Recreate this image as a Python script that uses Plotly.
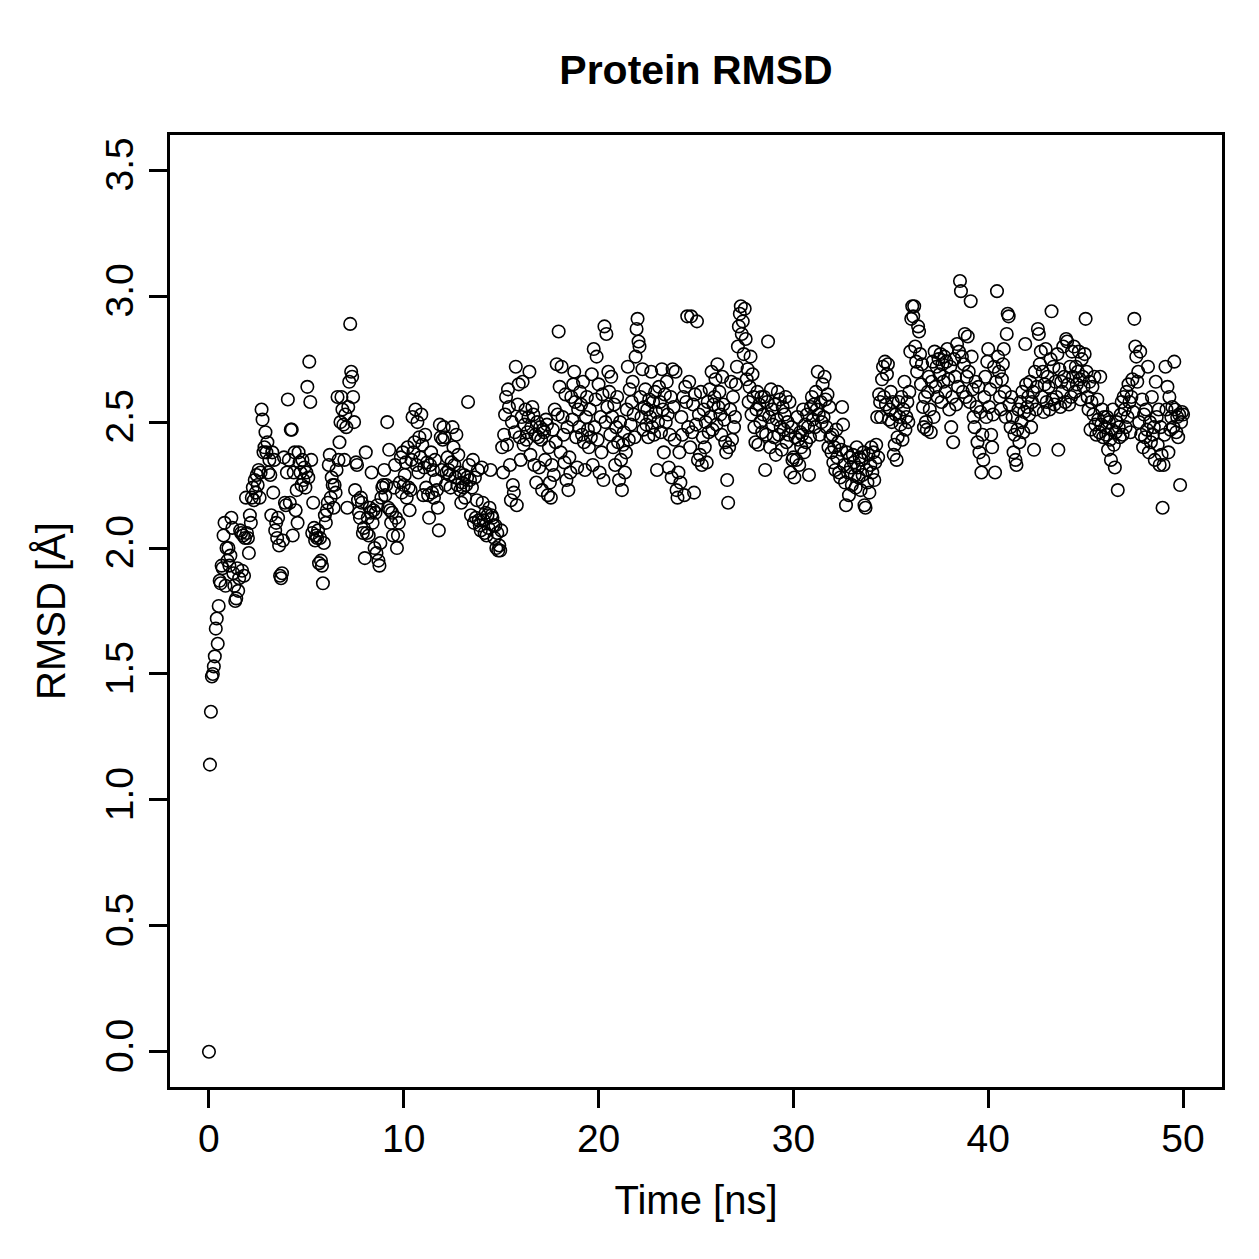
import plotly.graph_objects as go

time_step_ns = 0.05

rmsd = [
    0.00, 1.14, 1.35, 1.49, 1.50, 1.53, 1.57, 1.68, 1.72, 1.62,
    1.77, 1.87, 1.86, 1.93, 1.92, 2.05, 2.10, 1.85, 2.00, 1.95,
    2.00, 1.93, 1.97, 2.12, 2.08, 1.90, 1.85, 1.79, 1.80, 1.92,
    1.83, 1.88, 2.07, 2.06, 1.91, 2.05, 1.89, 2.04, 2.20, 2.06,
    2.04, 1.98, 2.13, 2.10, 2.20, 2.24, 2.19, 2.27, 2.22, 2.29,
    2.25, 2.31, 2.20, 2.30, 2.55, 2.51, 2.38, 2.40, 2.46, 2.38,
    2.42, 2.30, 2.35, 2.29, 2.13, 2.38, 2.22, 2.35, 2.07, 2.10,
    2.04, 2.12, 2.01, 1.89, 1.88, 1.90, 2.03, 2.36, 2.18, 2.17,
    2.30, 2.59, 2.35, 2.18, 2.47, 2.47, 2.05, 2.30, 2.38, 2.15,
    2.23, 2.10, 2.38, 2.34, 2.30, 2.25, 2.35, 2.27, 2.32, 2.24,
    2.30, 2.64, 2.28, 2.74, 2.58, 2.35, 2.06, 2.18, 2.08, 2.03,
    2.05, 2.04, 2.07, 1.94, 2.04, 1.95, 1.93, 1.86, 2.02, 2.13,
    2.10, 2.15, 2.18, 2.33, 2.37, 2.20, 2.28, 2.25, 2.16, 2.25,
    2.22, 2.31, 2.60, 2.35, 2.42, 2.50, 2.60, 2.55, 2.49, 2.35,
    2.53, 2.48, 2.16, 2.56, 2.66, 2.89, 2.70, 2.68, 2.60, 2.50,
    2.23, 2.34, 2.33, 2.19, 2.14, 2.12, 2.20, 2.18, 2.06, 2.08,
    1.96, 2.38, 2.06, 2.12, 2.05, 2.16, 2.14, 2.30, 2.10, 2.15,
    2.00, 2.14, 1.98, 2.17, 1.95, 1.93, 2.02, 2.20, 2.24, 2.25,
    2.31, 2.21, 2.25, 2.50, 2.16, 2.39, 2.15, 2.10, 2.14, 2.05,
    2.24, 2.33, 2.12, 2.00, 2.05, 2.10, 2.26, 2.36, 2.22, 2.38,
    2.25, 2.29, 2.34, 2.20, 2.40, 2.24, 2.15, 2.23, 2.35, 2.52,
    2.38, 2.42, 2.55, 2.33, 2.50, 2.30, 2.44, 2.36, 2.53, 2.41,
    2.21, 2.32, 2.45, 2.24, 2.34, 2.21, 2.12, 2.33, 2.38, 2.22,
    2.31, 2.20, 2.35, 2.27, 2.23, 2.16, 2.07, 2.49, 2.44, 2.31,
    2.43, 2.48, 2.44, 2.25, 2.30, 2.36, 2.31, 2.29, 2.24, 2.34,
    2.48, 2.40, 2.33, 2.28, 2.45, 2.25, 2.37, 2.30, 2.23, 2.18,
    2.26, 2.24, 2.29, 2.20, 2.25, 2.28, 2.58, 2.33, 2.27, 2.13,
    2.24, 2.35, 2.10, 2.28, 2.12, 2.19, 2.31, 2.11, 2.09, 2.07,
    2.32, 2.18, 2.11, 2.06, 2.14, 2.05, 2.13, 2.08, 2.16, 2.31,
    2.13, 2.12, 2.09, 2.04, 2.09, 2.00, 2.06, 1.99, 2.01, 1.99,
    2.07, 2.40, 2.30, 2.45, 2.53, 2.60, 2.41, 2.63, 2.56, 2.33,
    2.19, 2.50, 2.25, 2.22, 2.46, 2.72, 2.17, 2.57, 2.65, 2.44,
    2.35, 2.52, 2.66, 2.41, 2.49, 2.55, 2.43, 2.46, 2.52, 2.70,
    2.37, 2.48, 2.56, 2.53, 2.33, 2.45, 2.26, 2.50, 2.44, 2.32,
    2.48, 2.43, 2.23, 2.47, 2.46, 2.35, 2.51, 2.49, 2.21, 2.40,
    2.26, 2.20, 2.33, 2.47, 2.29, 2.55, 2.42, 2.73, 2.53, 2.86,
    2.64, 2.38, 2.72, 2.52, 2.45, 2.34, 2.61, 2.27, 2.48, 2.23,
    2.36, 2.30, 2.60, 2.51, 2.65, 2.70, 2.58, 2.44, 2.32, 2.55,
    2.48, 2.62, 2.57, 2.45, 2.66, 2.42, 2.31, 2.52, 2.60, 2.47,
    2.40, 2.55, 2.44, 2.69, 2.33, 2.79, 2.48, 2.59, 2.76, 2.43,
    2.65, 2.30, 2.52, 2.38, 2.61, 2.27, 2.88, 2.50, 2.85, 2.56,
    2.70, 2.62, 2.45, 2.68, 2.52, 2.40, 2.57, 2.33, 2.48, 2.60,
    2.42, 2.27, 2.50, 2.35, 2.23, 2.41, 2.46, 2.30, 2.38, 2.55,
    2.72, 2.43, 2.63, 2.49, 2.58, 2.66, 2.53, 2.44, 2.76, 2.87,
    2.91, 2.82, 2.80, 2.60, 2.52, 2.71, 2.47, 2.56, 2.63, 2.49,
    2.55, 2.44, 2.59, 2.52, 2.70, 2.48, 2.58, 2.45, 2.62, 2.54,
    2.31, 2.50, 2.64, 2.58, 2.46, 2.71, 2.55, 2.38, 2.61, 2.50,
    2.66, 2.53, 2.32, 2.45, 2.60, 2.28, 2.71, 2.56, 2.43, 2.70,
    2.23, 2.20, 2.30, 2.38, 2.26, 2.52, 2.45, 2.60, 2.21, 2.64,
    2.58, 2.92, 2.48, 2.66, 2.40, 2.92, 2.46, 2.57, 2.22, 2.61,
    2.49, 2.90, 2.35, 2.53, 2.37, 2.62, 2.33, 2.44, 2.55, 2.40,
    2.50, 2.34, 2.58, 2.46, 2.63, 2.52, 2.70, 2.47, 2.57, 2.60,
    2.67, 2.49, 2.73, 2.56, 2.62, 2.53, 2.45, 2.68, 2.57, 2.51,
    2.42, 2.38, 2.27, 2.18, 2.40, 2.55, 2.66, 2.43, 2.60, 2.48,
    2.52, 2.65, 2.72, 2.80, 2.88, 2.93, 2.96, 2.85, 2.90, 2.77,
    2.95, 2.83, 2.67, 2.71, 2.58, 2.64, 2.76, 2.53, 2.69, 2.60,
    2.48, 2.42, 2.55, 2.62, 2.41, 2.57, 2.50, 2.60, 2.46, 2.53,
    2.60, 2.31, 2.45, 2.58, 2.82, 2.52, 2.40, 2.63, 2.55, 2.49,
    2.44, 2.57, 2.37, 2.51, 2.62, 2.45, 2.59, 2.48, 2.39, 2.56,
    2.47, 2.53, 2.60, 2.42, 2.50, 2.45, 2.58, 2.30, 2.48, 2.35,
    2.36, 2.28, 2.44, 2.35, 2.52, 2.43, 2.33, 2.46, 2.40, 2.45,
    2.55, 2.38, 2.49, 2.42, 2.53, 2.48, 2.29, 2.44, 2.56, 2.60,
    2.51, 2.57, 2.48, 2.62, 2.55, 2.70, 2.53, 2.45, 2.58, 2.50,
    2.65, 2.52, 2.68, 2.59, 2.48, 2.61, 2.40, 2.56, 2.44, 2.38,
    2.45, 2.34, 2.40, 2.31, 2.47, 2.36, 2.42, 2.30, 2.28, 2.39,
    2.56, 2.49, 2.33, 2.26, 2.17, 2.38, 2.30, 2.21, 2.36, 2.32,
    2.25, 2.37, 2.34, 2.29, 2.24, 2.40, 2.32, 2.28, 2.36, 2.23,
    2.35, 2.29, 2.38, 2.17, 2.16, 2.31, 2.26, 2.37, 2.22, 2.33,
    2.40, 2.30, 2.38, 2.27, 2.34, 2.41, 2.52, 2.36, 2.61, 2.58,
    2.52, 2.67, 2.72, 2.60, 2.74, 2.57, 2.69, 2.73, 2.51, 2.55,
    2.62, 2.50, 2.58, 2.37, 2.41, 2.53, 2.35, 2.44, 2.58, 2.52,
    2.49, 2.60, 2.43, 2.55, 2.66, 2.47, 2.52, 2.58, 2.50, 2.62,
    2.78, 2.91, 2.96, 2.92, 2.96, 2.80, 2.74, 2.70, 2.88, 2.86,
    2.77, 2.65, 2.73, 2.56, 2.48, 2.60, 2.50, 2.47, 2.62, 2.68,
    2.55, 2.46, 2.66, 2.74, 2.52, 2.78, 2.64, 2.72, 2.60, 2.75,
    2.69, 2.77, 2.58, 2.73, 2.66, 2.76, 2.62, 2.74, 2.79, 2.67,
    2.55, 2.72, 2.48, 2.60, 2.42, 2.75, 2.68, 2.57, 2.81, 2.64,
    2.78, 3.06, 3.02, 2.76, 2.62, 2.73, 2.85, 2.60, 2.68, 2.84,
    2.70, 2.58, 2.98, 2.76, 2.63, 2.52, 2.48, 2.66, 2.56, 2.42,
    2.64, 2.38, 2.54, 2.30, 2.45, 2.35, 2.60, 2.68, 2.52, 2.74,
    2.79, 2.56, 2.63, 2.45, 2.40, 2.53, 2.72, 2.30, 2.66, 3.02,
    2.76, 2.70, 2.60, 2.55, 2.67, 2.73, 2.79, 2.62, 2.52, 2.85,
    2.93, 2.92, 2.57, 2.48, 2.60, 2.52, 2.38, 2.45, 2.35, 2.33,
    2.47, 2.55, 2.42, 2.58, 2.50, 2.62, 2.46, 2.54, 2.81, 2.65,
    2.56, 2.60, 2.53, 2.66, 2.48, 2.58, 2.62, 2.39, 2.70, 2.55,
    2.64, 2.87, 2.85, 2.73, 2.78, 2.60, 2.70, 2.54, 2.65, 2.79,
    2.58, 2.68, 2.64, 2.55, 2.75, 2.94, 2.59, 2.72, 2.57, 2.66,
    2.60, 2.77, 2.39, 2.71, 2.56, 2.66, 2.62, 2.80, 2.68, 2.58,
    2.83, 2.82, 2.65, 2.57, 2.72, 2.60, 2.78, 2.68, 2.80, 2.62,
    2.72, 2.65, 2.70, 2.78, 2.67, 2.59, 2.75, 2.68, 2.64, 2.77,
    2.91, 2.70, 2.60, 2.55, 2.66, 2.47, 2.58, 2.64, 2.53, 2.68,
    2.49, 2.45, 2.59, 2.51, 2.46, 2.68, 2.49, 2.55, 2.44, 2.52,
    2.48, 2.45, 2.52, 2.39, 2.50, 2.43, 2.35, 2.47, 2.55, 2.41,
    2.32, 2.46, 2.50, 2.23, 2.48, 2.44, 2.53, 2.58, 2.45, 2.60,
    2.55, 2.48, 2.62, 2.52, 2.65, 2.58, 2.46, 2.60, 2.67, 2.54,
    2.91, 2.80, 2.76, 2.66, 2.70, 2.50, 2.78, 2.45, 2.59, 2.40,
    2.53, 2.44, 2.55, 2.47, 2.72, 2.38, 2.50, 2.42, 2.60, 2.45,
    2.48, 2.35, 2.66, 2.52, 2.41, 2.55, 2.33, 2.48, 2.37, 2.16,
    2.33, 2.45, 2.72, 2.55, 2.64, 2.38, 2.60, 2.47, 2.52, 2.56,
    2.48, 2.74, 2.55, 2.46, 2.52, 2.44, 2.53, 2.25, 2.50, 2.54,
    2.53,
]

time_ns = [round(i * time_step_ns, 2) for i in range(len(rmsd))]

x_ticks = [0, 10, 20, 30, 40, 50]
y_ticks = [0.0, 0.5, 1.0, 1.5, 2.0, 2.5, 3.0, 3.5]

FONT = "Liberation Sans, Arial, Helvetica, sans-serif"

fig = go.Figure()
fig.add_trace(go.Scatter(
    x=time_ns, y=rmsd, mode="markers",
    marker=dict(symbol="circle-open", size=12.5, color="black",
                line=dict(width=1.6, color="black")),
    showlegend=False, hoverinfo="skip",
))

fig.update_layout(
    width=1259, height=1259,
    margin=dict(l=170, r=37, t=135, b=172),
    paper_bgcolor="white", plot_bgcolor="white",
    font=dict(family=FONT, color="black", size=39),
    title=dict(text="<b>Protein RMSD</b>", x=0.5, xref="paper",
               y=1 - 70 / 1259, yref="container", yanchor="middle",
               xanchor="center",
               font=dict(family=FONT, size=41, color="black")),
)
fig.update_xaxes(
    range=[-2, 52], tickvals=x_ticks, ticktext=[str(v) for v in x_ticks],
    ticks="outside", ticklen=18, tickwidth=3, tickcolor="black",
    showline=True, linewidth=3, linecolor="black", mirror=True,
    showgrid=False, zeroline=False,
    tickfont=dict(size=39), ticklabelstandoff=-3,
    title=dict(text="Time [ns]", font=dict(size=40), standoff=28),
)
fig.update_yaxes(
    range=[-0.14, 3.64], tickvals=y_ticks, ticktext=[f"{v:.1f}" for v in y_ticks],
    tickangle=-90,
    ticks="outside", ticklen=18, tickwidth=3, tickcolor="black",
    showline=True, linewidth=3, linecolor="black", mirror=True,
    showgrid=False, zeroline=False,
    tickfont=dict(size=39),
    title=dict(text="RMSD [Å]", font=dict(size=40), standoff=21),
)

fig.write_html("out.html")
